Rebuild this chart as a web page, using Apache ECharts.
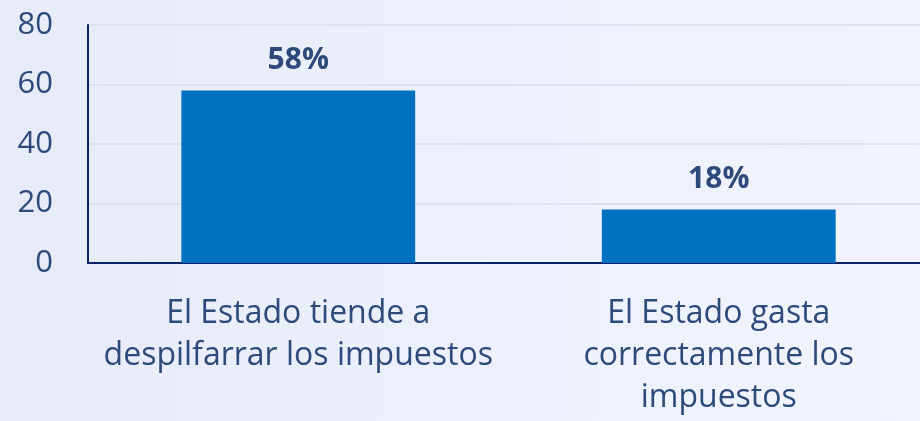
<!DOCTYPE html>
<html>
<head>
<meta charset="utf-8">
<script src="https://cdn.jsdelivr.net/npm/echarts@6/dist/echarts.min.js"></script>
<style>
html,body{margin:0;padding:0;overflow:hidden;}
#c{width:920px;height:421px;background:linear-gradient(90deg,#e6ebf7 0%,#edf1fb 60%,#f1f4fc 100%);}
</style>
</head>
<body>
<div id="c"></div>
<script>
const categories = ["El Estado tiende a\ndespilfarrar los impuestos", "El Estado gasta\ncorrectamente los\nimpuestos"];
const values = [58, 18];
const yTicks = [0, 20, 40, 60, 80];

const textColor = '#2e4a7b';
const chart = echarts.init(document.getElementById('c'), null, {renderer: 'canvas'});
chart.setOption({
  animation: false,
  backgroundColor: 'transparent',
  grid: {left: 88, width: 841, top: 25, bottom: 158, containLabel: false, outerBoundsMode: 'none'},
  xAxis: {
    type: 'category',
    data: categories,
    axisLine: {show: true, lineStyle: {color: '#0c2166', width: 2}},
    axisTick: {show: false},
    axisLabel: {
      color: textColor, fontFamily: 'Open Sans', fontSize: 32, lineHeight: 42,
      margin: 30, interval: 0, align: 'center'
    }
  },
  yAxis: {
    type: 'value',
    min: yTicks[0], max: yTicks[yTicks.length - 1], interval: 20,
    axisLine: {show: true, lineStyle: {color: '#0c2166', width: 2}},
    axisTick: {show: false},
    splitLine: {show: true, lineStyle: {color: '#d7deea', width: 1.5}},
    axisLabel: {color: textColor, fontFamily: 'Open Sans', fontSize: 31, margin: 35}
  },
  series: [{
    type: 'bar',
    data: values,
    barWidth: '55.6%',
    itemStyle: {color: '#0070c0'},
    label: {
      show: true, position: 'top', distance: 15,
      formatter: p => p.value + '%',
      color: textColor, fontFamily: 'Open Sans', fontWeight: 'bold', fontSize: 30
    }
  }]
});
</script>
</body>
</html>
